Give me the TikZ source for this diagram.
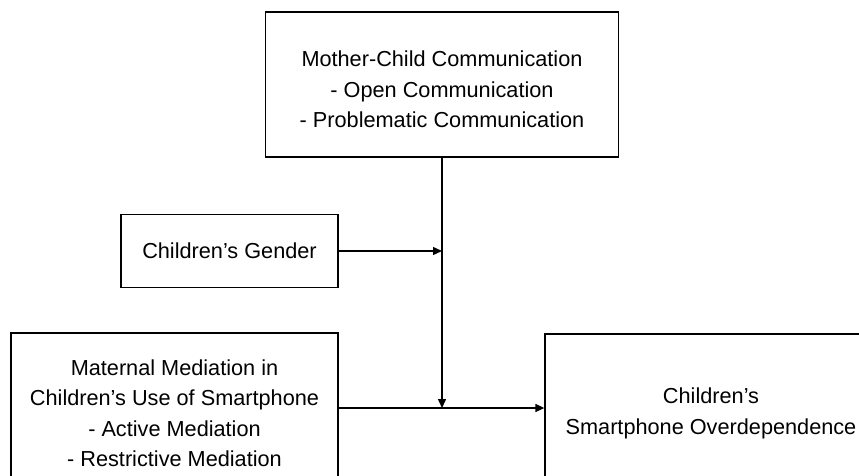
\documentclass[tikz,border=0pt]{standalone}
\usepackage{fontspec}
\setmainfont{Liberation Sans}
\usetikzlibrary{arrows.meta}
\newcommand{\boxstrut}{\rule{0pt}{26pt}}
\begin{document}
\begin{tikzpicture}
[x=1pt,y=-1pt,
  arrowDecorate/.style={-{Triangle[length=9pt,width=8pt]},line width=1.4pt},%
  boxDecorate/.style={shape=rectangle,draw,line width=1.3pt,align=center,
    font=\fontsize{21.7}{30.5}\selectfont}]
\clip (0,0) rectangle (859,476);
%% boxes
\node (comm) at (442,84.5) [boxDecorate,minimum width=353pt,minimum height=145pt]
  {\boxstrut Mother-Child Communication\\- Open Communication\\- Problematic Communication};
\node (gender) at (229.5,251) [boxDecorate,minimum width=217pt,minimum height=73pt]
  {Children’s Gender};
\node (mediation) at (174.5,408) [boxDecorate,minimum width=327pt,minimum height=150pt]
  {\boxstrut Maternal Mediation in\\Children’s Use of Smartphone\\- Active Mediation\\- Restrictive Mediation};
\node (overdep) at (711,408) [boxDecorate,minimum width=332pt,minimum height=148pt]
  {\boxstrut Children’s\\Smartphone Overdependence};
%% joining points
\coordinate (join) at (comm.south |- mediation.east);
\coordinate (genderjoin) at (comm.south |- gender.east);
%% lines
\path
(comm.south) edge[arrowDecorate] (join)
(gender.east) edge[arrowDecorate] (genderjoin)
(mediation.east) edge[arrowDecorate] (overdep.west);
\end{tikzpicture}
\end{document}
